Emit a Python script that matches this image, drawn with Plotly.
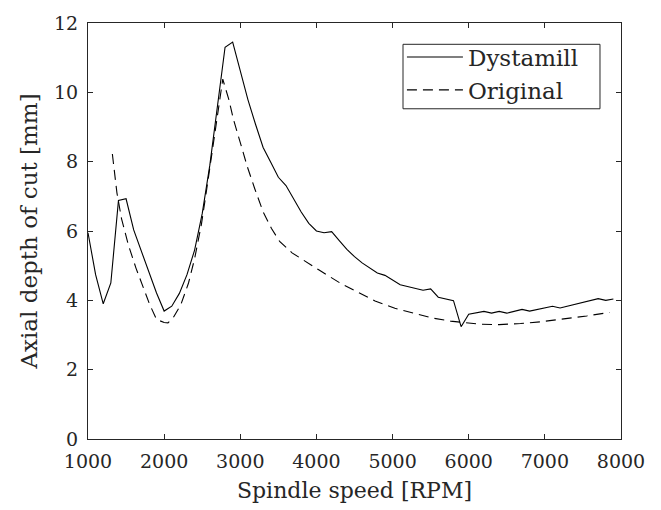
import plotly.graph_objects as go

# Dystamill (solid)
dyst_rpm = [1000, 1100, 1200, 1300, 1400, 1500, 1600, 1700, 1800, 1900,
            2000, 2100, 2200, 2300, 2400, 2500, 2600, 2700, 2800, 2900,
            3000, 3100, 3200, 3300, 3400, 3500, 3600, 3700, 3800, 3900,
            4000, 4100, 4200, 4300, 4400, 4500, 4600, 4800, 4900, 5100,
            5400, 5500, 5600, 5800, 5900, 6000, 6100, 6200, 6300, 6400,
            6500, 6600, 6700, 6800, 6900, 7000, 7100, 7200, 7300, 7400,
            7500, 7600, 7700, 7800, 7900]
dyst_depth = [5.95, 4.74, 3.90, 4.50, 6.88, 6.93, 6.03, 5.41, 4.83, 4.21,
              3.69, 3.83, 4.20, 4.74, 5.45, 6.50, 7.90, 9.60, 11.30, 11.45,
              10.65, 9.79, 9.08, 8.41, 7.98, 7.55, 7.31, 6.93, 6.55, 6.22,
              6.00, 5.95, 5.98, 5.72, 5.47, 5.26, 5.08, 4.79, 4.72, 4.45,
              4.29, 4.33, 4.09, 3.99, 3.24, 3.60, 3.64, 3.68, 3.63, 3.68,
              3.63, 3.69, 3.74, 3.69, 3.74, 3.79, 3.83, 3.78, 3.83, 3.88,
              3.93, 3.98, 4.05, 4.00, 4.04]

# Original (dashed)
orig_rpm = [1320, 1380, 1440, 1530, 1630, 1730, 1810, 1900, 2000, 2050,
            2120, 2220, 2320, 2400, 2490, 2560, 2630, 2700, 2770, 2850,
            2910, 3000, 3090, 3190, 3300, 3410, 3520, 3680, 3830, 4030,
            4310, 4550, 4770, 5030, 5280, 5520, 5760, 5900, 6150, 6400,
            6680, 6940, 7200, 7550, 7850]
orig_depth = [8.22, 7.10, 6.36, 5.60, 4.93, 4.36, 3.88, 3.45, 3.36, 3.35,
              3.50, 3.88, 4.50, 5.20, 6.20, 7.22, 8.30, 9.40, 10.38, 9.79,
              9.22, 8.55, 7.87, 7.22, 6.55, 6.07, 5.69, 5.37, 5.15, 4.88,
              4.50, 4.22, 3.98, 3.77, 3.62, 3.49, 3.40, 3.36, 3.31, 3.30,
              3.33, 3.38, 3.45, 3.55, 3.65]

x_ticks = [1000, 2000, 3000, 4000, 5000, 6000, 7000, 8000]
y_ticks = [0, 2, 4, 6, 8, 10, 12]

AX = "#262626"
FONT = "DejaVu Serif"

fig = go.Figure()
fig.add_trace(go.Scatter(x=dyst_rpm, y=dyst_depth, mode="lines", name="Dystamill",
                         line=dict(color="black", width=1.1)))
fig.add_trace(go.Scatter(x=orig_rpm, y=orig_depth, mode="lines", name="Original",
                         line=dict(color="black", width=1.1, dash="10px,6px")))

axis_common = dict(showgrid=False, zeroline=False, showline=True, linecolor=AX,
                   linewidth=1, mirror="ticks", ticks="inside", ticklen=5,
                   tickcolor=AX, tickwidth=1,
                   tickfont=dict(family=FONT, size=19, color=AX))

# legend frame (white box with dark border)
fig.add_shape(type="rect", xref="paper", yref="paper",
              x0=0.591, x1=0.9606, y0=0.7938, y1=0.9488,
              line=dict(color=AX, width=1), fillcolor="white", layer="below")

fig.update_layout(
    width=661, height=510,
    margin=dict(l=88, r=40, t=19.5, b=71),
    paper_bgcolor="white", plot_bgcolor="white",
    font=dict(family=FONT, color=AX),
    xaxis=dict(range=[1000, 8000], tickvals=x_ticks,
               title=dict(text="Spindle speed [RPM]", font=dict(family=FONT, size=22, color=AX),
                          standoff=11),
               ticklabelstandoff=5,
               **axis_common),
    yaxis=dict(range=[0, 12], tickvals=y_ticks,
               title=dict(text="Axial depth of cut [mm]", font=dict(family=FONT, size=23, color=AX),
                          standoff=9),
               ticklabelstandoff=5,
               **axis_common),
    legend=dict(x=0.589, y=0.970, xanchor="left", yanchor="top",
                bgcolor="rgba(0,0,0,0)", borderwidth=0,
                font=dict(family=FONT, size=23, color=AX),
                itemwidth=56, tracegroupgap=0),
    showlegend=True,
)

fig.write_html("out.html")
